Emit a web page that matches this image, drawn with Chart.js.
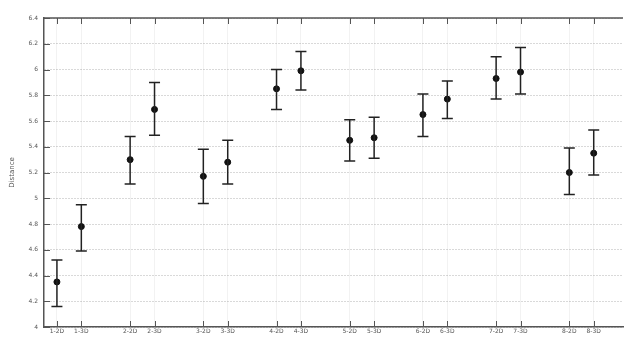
<!DOCTYPE html>
<html>
<head>
<meta charset="utf-8">
<script src="https://cdn.jsdelivr.net/npm/chart.js@4/dist/chart.umd.min.js"></script>
<style>
  html, body { margin: 0; padding: 0; background: #fff; }
  #wrap { width: 627px; height: 338px; }
</style>
</head>
<body>
<div id="wrap"><canvas id="grafico"></canvas></div>
<script>
// categorie e posizioni sull'asse x (coppie separate da uno spazio)
const etichette = ['1-2D', '1-3D', '2-2D', '2-3D', '3-2D', '3-3D', '4-2D', '4-3D',
                   '5-2D', '5-3D', '6-2D', '6-3D', '7-2D', '7-3D', '8-2D', '8-3D'];
const posizioni = [1, 2, 4, 5, 7, 8, 10, 11, 13, 14, 16, 17, 19, 20, 22, 23];

// valori medi e limiti delle barre di errore
const medie   = [4.35, 4.78, 5.30, 5.69, 5.17, 5.28, 5.85, 5.99, 5.45, 5.47, 5.65, 5.77, 5.93, 5.98, 5.20, 5.35];
const massimi = [4.52, 4.95, 5.48, 5.90, 5.38, 5.45, 6.00, 6.14, 5.61, 5.63, 5.81, 5.91, 6.10, 6.17, 5.39, 5.53];
const minimi  = [4.16, 4.59, 5.11, 5.49, 4.96, 5.11, 5.69, 5.84, 5.29, 5.31, 5.48, 5.62, 5.77, 5.81, 5.03, 5.18];

const yTicks = [4, 4.2, 4.4, 4.6, 4.8, 5, 5.2, 5.4, 5.6, 5.8, 6, 6.2, 6.4];

const punti = posizioni.map((x, i) => ({ x: x, y: medie[i] }));

// barre di errore, tacche interne e bordo superiore
const pluginErrori = {
    id: 'errori',
    afterDatasetsDraw(chart) {
        const ctx = chart.ctx;
        const sx = chart.scales.x;
        const sy = chart.scales.y;
        const area = chart.chartArea;
        ctx.save();
        ctx.strokeStyle = '#222';
        ctx.lineWidth = 1.5;
        posizioni.forEach((x, i) => {
            const px = sx.getPixelForValue(x);
            const top = sy.getPixelForValue(massimi[i]);
            const bot = sy.getPixelForValue(minimi[i]);
            ctx.beginPath();
            ctx.moveTo(px, top); ctx.lineTo(px, bot);
            ctx.moveTo(px - 5.5, top); ctx.lineTo(px + 5.5, top);
            ctx.moveTo(px - 5.5, bot); ctx.lineTo(px + 5.5, bot);
            ctx.stroke();
        });
        // tacche
        ctx.strokeStyle = '#555';
        ctx.lineWidth = 1;
        posizioni.forEach(x => {
            const px = Math.round(sx.getPixelForValue(x)) + 0.5;
            ctx.beginPath();
            ctx.moveTo(px, area.bottom); ctx.lineTo(px, area.bottom - 6);
            ctx.moveTo(px, area.top); ctx.lineTo(px, area.top + 6);
            ctx.stroke();
        });
        yTicks.forEach(v => {
            const py = Math.round(sy.getPixelForValue(v)) + 0.5;
            ctx.beginPath();
            ctx.moveTo(area.left, py); ctx.lineTo(area.left + 6, py);
            ctx.stroke();
        });
        ctx.lineWidth = 1.5;
        ctx.beginPath();
        ctx.moveTo(area.left, area.top); ctx.lineTo(area.right, area.top);
        ctx.stroke();
        ctx.restore();
    }
};

new Chart(document.getElementById('grafico'), {
    type: 'scatter',
    data: {
        datasets: [{
            data: punti,
            backgroundColor: '#111',
            borderColor: '#111',
            pointRadius: 3,
            pointHoverRadius: 3
        }]
    },
    options: {
        responsive: true,
        maintainAspectRatio: false,
        animation: false,
        layout: { padding: { top: 18, right: 0, left: 0, bottom: 0 } },
        plugins: {
            legend: { display: false },
            tooltip: { enabled: false }
        },
        scales: {
            x: {
                type: 'linear',
                min: 0.47,
                max: 24.2,
                afterBuildTicks: (axis) => {
                    axis.ticks = posizioni.map(v => ({ value: v }));
                },
                afterFit: (axis) => { axis.height = 11; },
                ticks: {
                    autoSkip: false,
                    maxRotation: 0,
                    padding: 1,
                    color: '#555',
                    font: { family: 'DejaVu Sans', size: 6 },
                    callback: function (value) {
                        const i = posizioni.indexOf(value);
                        return i >= 0 ? etichette[i] : '';
                    }
                },
                grid: {
                    color: 'rgba(0,0,0,0.05)',
                    drawTicks: false
                },
                border: { color: '#555', width: 1.5 }
            },
            y: {
                min: 4,
                max: 6.4,
                afterBuildTicks: (axis) => {
                    axis.ticks = yTicks.map(v => ({ value: v }));
                },
                afterFit: (axis) => { axis.width = 44; },
                title: {
                    display: true,
                    text: 'Distance',
                    color: '#555',
                    font: { family: 'DejaVu Sans', size: 7 },
                    padding: { top: 8, bottom: 0 }
                },
                ticks: {
                    padding: 6,
                    color: '#555',
                    font: { family: 'DejaVu Sans', size: 6 },
                    callback: (v) => String(Math.round(v * 10) / 10)
                },
                grid: {
                    color: 'rgba(0,0,0,0.3)',
                    drawTicks: false,
                    lineWidth: 1
                },
                border: { color: '#555', width: 1.5, dash: [1, 2] }
            }
        }
    },
    plugins: [pluginErrori]
});
</script>
</body>
</html>
